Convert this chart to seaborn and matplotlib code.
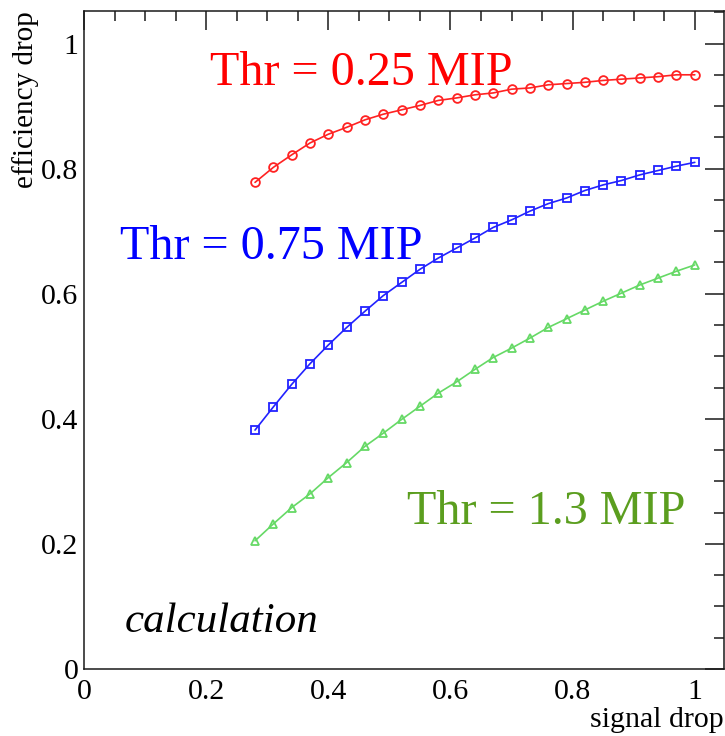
import numpy as np
import pandas as pd
import matplotlib
matplotlib.use("Agg")
import matplotlib.pyplot as plt
from matplotlib.ticker import MultipleLocator, FixedLocator
import seaborn as sns

# ---- data ----
signal_drop = [0.28, 0.31, 0.34, 0.37, 0.40, 0.43, 0.46, 0.49, 0.52, 0.55, 0.58, 0.61, 0.64,
               0.67, 0.70, 0.73, 0.76, 0.79, 0.82, 0.85, 0.88, 0.91, 0.94, 0.97, 1.00]
eff_thr025 = [0.778, 0.802, 0.822, 0.841, 0.855, 0.866, 0.878, 0.887, 0.894, 0.901, 0.909, 0.913, 0.918,
              0.921, 0.927, 0.929, 0.934, 0.936, 0.938, 0.941, 0.943, 0.945, 0.947, 0.950, 0.950]
eff_thr075 = [0.382, 0.419, 0.455, 0.488, 0.518, 0.546, 0.572, 0.597, 0.618, 0.639, 0.657, 0.673, 0.689,
              0.706, 0.718, 0.732, 0.744, 0.753, 0.765, 0.774, 0.781, 0.790, 0.797, 0.804, 0.810]
eff_thr130 = [0.205, 0.232, 0.258, 0.280, 0.306, 0.330, 0.356, 0.377, 0.399, 0.420, 0.441, 0.459, 0.479,
              0.498, 0.513, 0.529, 0.546, 0.560, 0.574, 0.588, 0.601, 0.614, 0.625, 0.636, 0.646]
series_labels = ["Thr = 0.25 MIP", "Thr = 0.75 MIP", "Thr = 1.3 MIP"]
x_ticks = [0, 0.2, 0.4, 0.6, 0.8, 1.0]
x_ticklabels = ["0", "0.2", "0.4", "0.6", "0.8", "1"]
y_ticks = [0, 0.2, 0.4, 0.6, 0.8, 1.0]
y_ticklabels = ["0", "0.2", "0.4", "0.6", "0.8", "1"]

# ---- styling ----
sns.set_style("white")
plt.rcParams["font.family"] = ["Liberation Serif", "DejaVu Serif"]
plt.rcParams["text.color"] = "black"
plt.rcParams["axes.labelcolor"] = "black"

line_colors = ["#ff2222", "#2222ff", "#66d966"]
text_colors = ["#ff0000", "#0000ff", "#5b9e1f"]
markers = ["o", "s", "^"]

fig = plt.figure(figsize=(7.25, 7.36), dpi=100)
ax = fig.add_axes([84 / 725, 67 / 736, (723.5 - 84) / 725, (669 - 11) / 736])

for yvals, col, mk in zip([eff_thr025, eff_thr075, eff_thr130], line_colors, markers):
    df = pd.DataFrame({"signal drop": signal_drop, "efficiency drop": yvals})
    sns.lineplot(data=df, x="signal drop", y="efficiency drop", ax=ax, color=col,
                 marker=mk, markersize=6.3, linewidth=1.2, sort=False)

for line in ax.lines:
    c = line.get_color()
    line.set_markerfacecolor("none")
    line.set_markeredgecolor(c)
    line.set_markeredgewidth(1.3)

ax.set_xlim(0, 1.047)
ax.set_ylim(0, 1.052)

ax.xaxis.set_major_locator(FixedLocator(x_ticks))
ax.yaxis.set_major_locator(FixedLocator(y_ticks))
ax.set_xticklabels(x_ticklabels)
ax.set_yticklabels(y_ticklabels)
ax.xaxis.set_minor_locator(MultipleLocator(0.05))
ax.yaxis.set_minor_locator(MultipleLocator(0.05))

ax.tick_params(which="both", direction="in", top=True, right=True, colors="#1a1a1a",
               labelsize=21.5, width=1.1)
ax.tick_params(which="major", length=14)
ax.tick_params(which="minor", length=7.5)
ax.tick_params(axis="x", which="major", pad=7)
ax.tick_params(axis="y", which="major", pad=4)
for t in ax.get_xticklabels() + ax.get_yticklabels():
    t.set_color("black")

for s in ax.spines.values():
    s.set_linewidth(1.1)
    s.set_color("#1a1a1a")

ax.set_xlabel("signal drop", fontsize=21.5, loc="right", color="black")
ax.xaxis.set_label_coords(1.0, -0.057)
ax.set_ylabel("")
fig.text(26 / 725, 1 - 11 / 736, "efficiency drop", rotation=90, ha="center", va="top",
         fontsize=21, color="black")

# annotations
ax.text(0.206, 0.934, series_labels[0], color=text_colors[0], fontsize=34.7, ha="left", va="baseline")
ax.text(0.059, 0.655, series_labels[1], color=text_colors[1], fontsize=34.7, ha="left", va="baseline")
ax.text(0.529, 0.232, series_labels[2], color=text_colors[2], fontsize=34.7, ha="left", va="baseline")
ax.text(0.067, 0.059, "calculation", color="black", fontsize=31, style="italic",
        ha="left", va="baseline")

fig.savefig("out.png", dpi=100)
